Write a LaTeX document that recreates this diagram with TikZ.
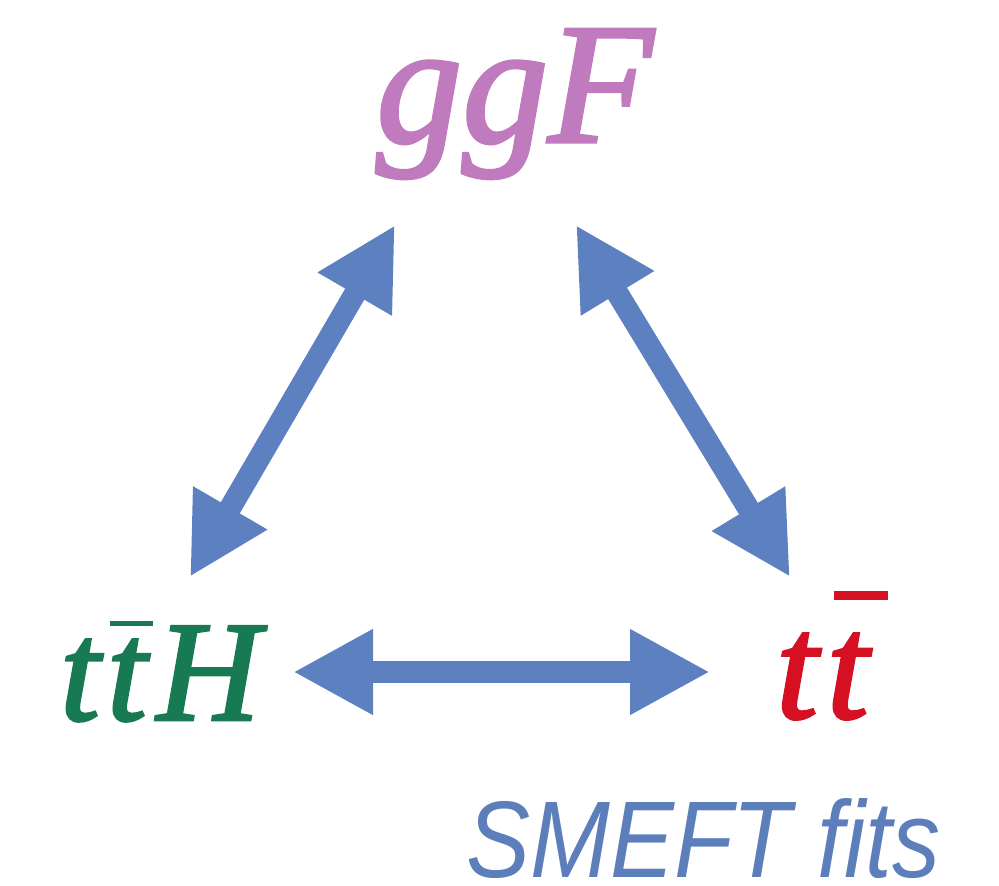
\documentclass[tikz,border=0pt]{standalone}
\usepackage{fontspec}
\setmainfont{Liberation Serif}
\newfontfamily\procfont{Liberation Serif}[ItalicFeatures={FakeBold=2}]
\newfontfamily\labelsans{Liberation Sans}
\usetikzlibrary{arrows.meta}
\definecolor{arrowblue}{RGB}{92,128,192}
\definecolor{ggfpink}{RGB}{192,122,190}
\definecolor{tthgreen}{RGB}{24,122,82}
\definecolor{ttred}{RGB}{212,16,34}
\definecolor{smeftblue}{RGB}{92,126,186}
% a letter with an overbar: #1 raise, #2 shift, #3 length, #4 thickness, #5 letter
\newcommand\barred[5]{\leavevmode\rlap{\hspace{#2}\raisebox{#1}{\rule{#3}{#4}}}#5}
\begin{document}
\begin{tikzpicture}[x=1pt,y=-1pt,
  proc/.style={inner sep=0pt, anchor=base west},
  biarrow/.style={draw=arrowblue, line width=22pt,
    {Triangle[length=80pt,width=80pt]}-{Triangle[length=80pt,width=80pt]}}]
\useasboundingbox (0,0) rectangle (999,886);
% process labels
\node[proc, text=ggfpink, font=\procfont\itshape\fontsize{172}{172}\selectfont] (ggf) at (376,142) {ggF};
\node[proc, text=tthgreen, font=\procfont\itshape\fontsize{143}{143}\selectfont] (tth) at (60,720)
  {t\kern0.05em\barred{0.66em}{0.02em}{0.3em}{0.035em}{t}\kern0.07em H};
\node[proc, text=ttred, font=\procfont\itshape\fontsize{150}{150}\selectfont] (tt) at (776,718)
  {t\kern0.06em\barred{0.79em}{0.05em}{0.36em}{0.055em}{t}};
\node[inner sep=0pt, anchor=base west, text=smeftblue, font=\labelsans\itshape\fontsize{109}{109}\selectfont] (smeft) at (466,877) {\scalebox{0.88}[1]{SMEFT fits}};
% arrow end points
\coordinate (ggfL) at (395,225);
\coordinate (ggfR) at (576,225);
\coordinate (tthT) at (190,577);
\coordinate (ttT) at (790,577);
\coordinate (tthR) at (293,672);
\coordinate (ttL) at (710,672);
% connectors
\draw[biarrow] (tthT) -- (ggfL);
\draw[biarrow] (ggfR) -- (ttT);
\draw[biarrow] (tthR) -- (ttL);
\end{tikzpicture}
\end{document}
